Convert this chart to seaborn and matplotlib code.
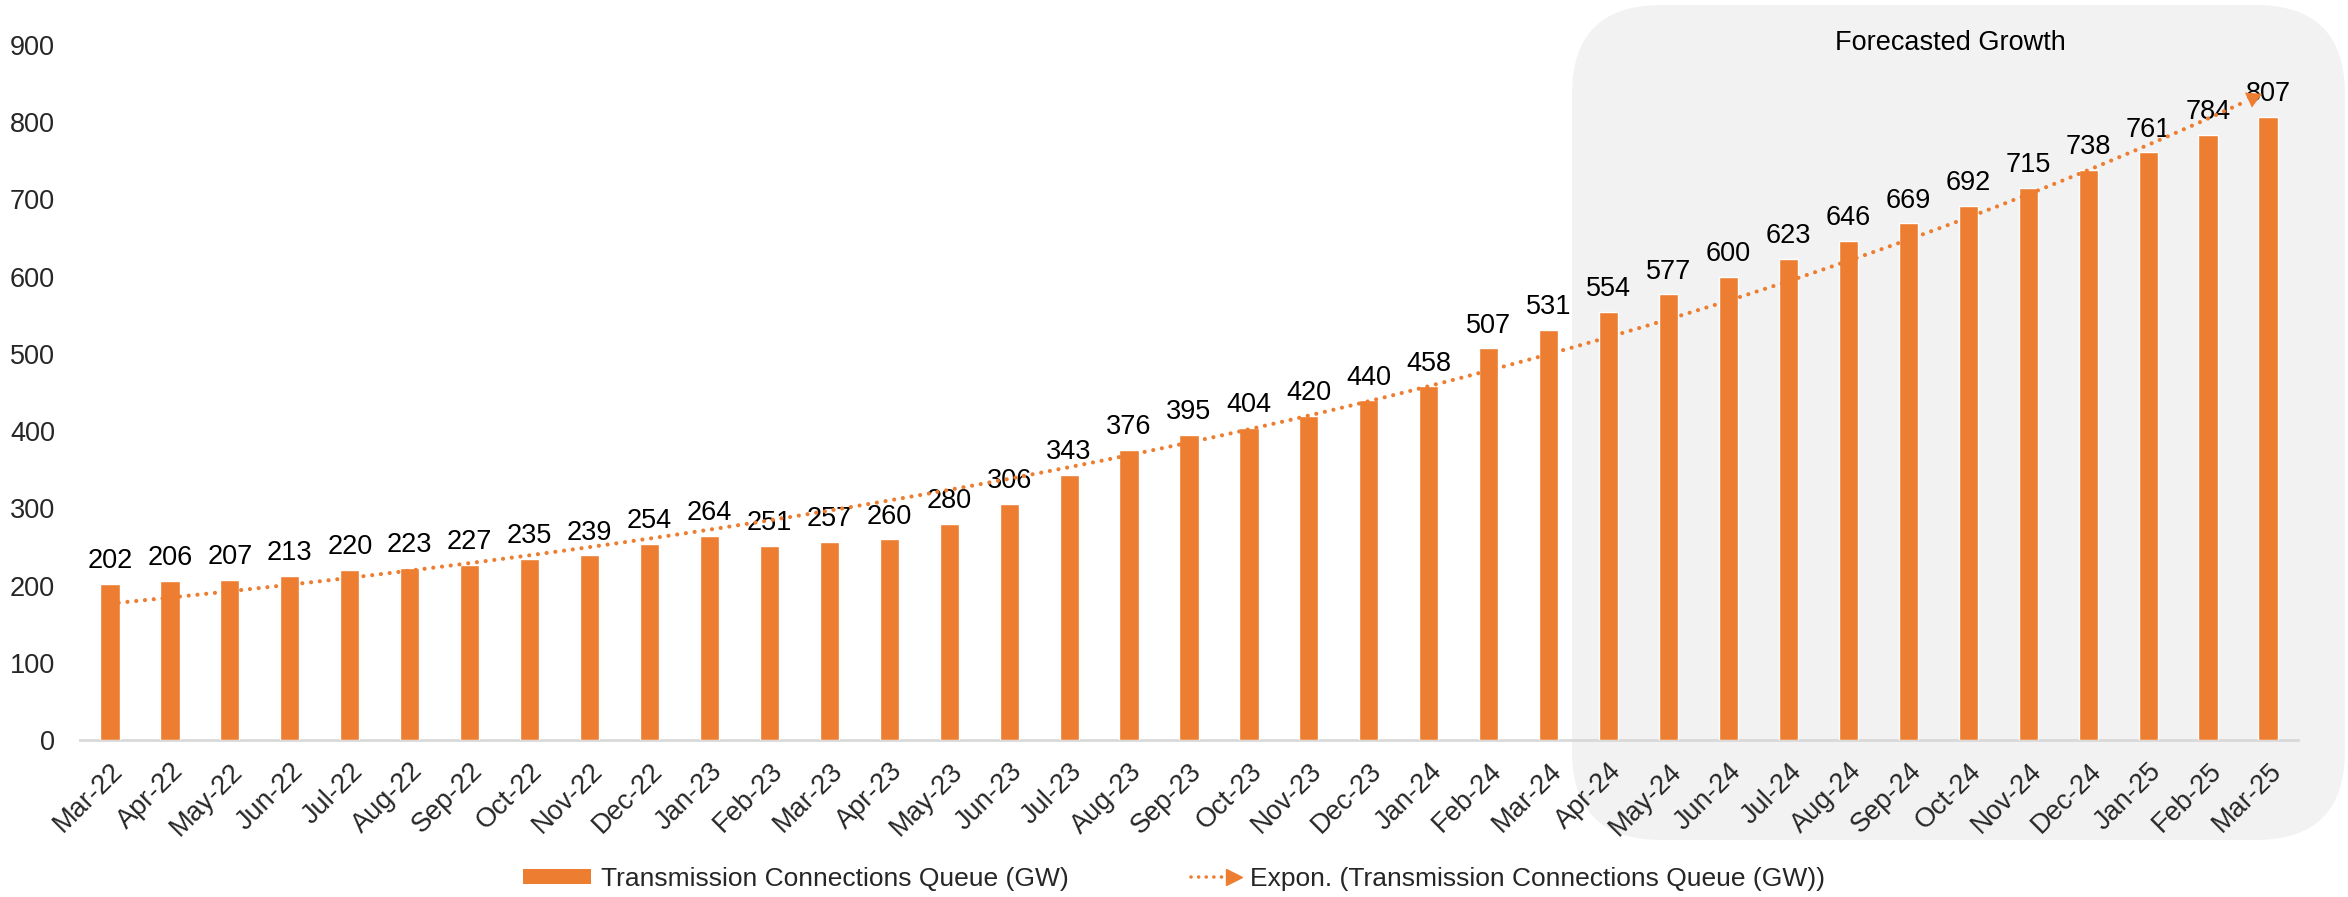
import numpy as np
import pandas as pd
import matplotlib
matplotlib.use("Agg")
import matplotlib.pyplot as plt
import seaborn as sns
from matplotlib.patches import FancyBboxPatch, Rectangle
from matplotlib.lines import Line2D
from matplotlib.legend_handler import HandlerBase

months = ["Mar-22", "Apr-22", "May-22", "Jun-22", "Jul-22", "Aug-22", "Sep-22", "Oct-22",
          "Nov-22", "Dec-22", "Jan-23", "Feb-23", "Mar-23", "Apr-23", "May-23", "Jun-23",
          "Jul-23", "Aug-23", "Sep-23", "Oct-23", "Nov-23", "Dec-23", "Jan-24", "Feb-24",
          "Mar-24", "Apr-24", "May-24", "Jun-24", "Jul-24", "Aug-24", "Sep-24", "Oct-24",
          "Nov-24", "Dec-24", "Jan-25", "Feb-25", "Mar-25"]
queue_gw = [202, 206, 207, 213, 220, 223, 227, 235, 239, 254, 264, 251, 257, 260, 280, 306,
            343, 376, 395, 404, 420, 440, 458, 507, 531, 554, 577, 600, 623, 646, 669, 692,
            715, 738, 761, 784, 807]
y_ticks = [0, 100, 200, 300, 400, 500, 600, 700, 800, 900]
bar_label_name = "Transmission Connections Queue (GW)"
trend_label_name = "Expon. (Transmission Connections Queue (GW))"
box_title = "Forecasted Growth"

ORANGE = "#ED7D31"
GRAY_BOX = "#F2F2F2"
FS = 19.5
DOTS = (0, (0.01, 2.1))

sns.set_theme(style="white")
plt.rcParams["font.family"] = ["Liberation Sans", "DejaVu Sans"]

df = pd.DataFrame({"month": months, "value": queue_gw})

W, H = 2348, 897
fig = plt.figure(figsize=(W / 100, H / 100), dpi=100)
ax = fig.add_axes([80 / W, 1 - 740 / H, (2298 - 80) / W, (740 - 45) / H])
ax.set_facecolor("none")
fig.patch.set_facecolor("white")

# forecast background box (figure pixel coordinates)
bx0, bx1, by_top, by_bot = 1572, 2345, 5, 840
box = FancyBboxPatch((bx0 / W, 1 - by_bot / H), (bx1 - bx0) / W, (by_bot - by_top) / H,
                     boxstyle="round,pad=0,rounding_size=0.038",
                     transform=fig.transFigure, facecolor=GRAY_BOX, edgecolor="none",
                     zorder=0, mutation_aspect=W / H, clip_on=False)
ax.add_patch(box)

sns.barplot(data=df, x="month", y="value", color=ORANGE, saturation=1, width=0.32,
            ax=ax, zorder=2)

ax.bar_label(ax.containers[0], labels=[str(v) for v in queue_gw], padding=7,
             fontsize=FS, color="black")

# exponential trendline (least squares on log values, like Excel)
xs = np.arange(len(queue_gw))
b, ln_a = np.polyfit(xs, np.log(queue_gw), 1)
xt = np.linspace(0, 35.55, 300)
ax.plot(xt, np.exp(ln_a + b * xt), linestyle=DOTS, color=ORANGE, lw=3.0,
        zorder=3, dash_capstyle="round")
x_end0, x_end1 = 35.4, 35.9
ax.annotate("", xy=(x_end1, np.exp(ln_a + b * x_end1)),
            xytext=(x_end0, np.exp(ln_a + b * x_end0)),
            arrowprops=dict(arrowstyle="-|>,head_length=0.9,head_width=0.5", color=ORANGE,
                            lw=0, shrinkA=0, shrinkB=0), zorder=4)

ax.set_ylim(0, 900)
ax.set_xlim(-0.5, len(months) - 0.5)
ax.set_yticks(y_ticks)
ax.set_yticklabels([str(t) for t in y_ticks], fontsize=FS)
ax.set_xticks(xs)
ax.set_xticklabels(months, rotation=45, ha="right", rotation_mode="anchor", fontsize=FS)
ax.set_xlabel("")
ax.set_ylabel("")
ax.tick_params(axis="x", which="major", length=0, pad=13)
ax.tick_params(axis="y", length=0, pad=18)
ax.set_xticks(np.arange(-0.5, len(months), 1.0), minor=True)
ax.tick_params(axis="x", which="minor", length=9, width=1.5, color="#D9D9D9", direction="out")

for s in ["top", "right", "left"]:
    ax.spines[s].set_visible(False)
ax.spines["bottom"].set_color("#D9D9D9")
ax.spines["bottom"].set_linewidth(2)
ax.spines["bottom"].set_zorder(1)
ax.grid(False)

ax.text(1950 / W, 1 - 43 / H, box_title, transform=fig.transFigure,
        ha="center", va="center", fontsize=FS, color="black")


class ArrowLineHandler(HandlerBase):
    def create_artists(self, legend, orig_handle, xdescent, ydescent, width, height,
                       fontsize, trans):
        y = height / 2 - ydescent
        line = Line2D([-xdescent + 14, width - xdescent - 8], [y, y], color=ORANGE,
                      linestyle=DOTS, lw=2.6, transform=trans, dash_capstyle="round")
        head = Line2D([width - xdescent - 4], [y], marker=">", markersize=11, color=ORANGE,
                      linestyle="none", transform=trans)
        return [line, head]


bar_handle = Rectangle((0, 0), 1, 1, facecolor=ORANGE, edgecolor="none")
trend_handle = Line2D([], [], color=ORANGE)
fig.legend([bar_handle, trend_handle], [bar_label_name, trend_label_name],
           handler_map={Line2D: ArrowLineHandler()},
           loc="center", bbox_to_anchor=(0.5, 1 - 879 / H), ncol=2, frameon=False,
           fontsize=19, handlelength=2.55, handleheight=0.5, handletextpad=0.4,
           columnspacing=3.9)

fig.savefig("out.png", dpi=100)
